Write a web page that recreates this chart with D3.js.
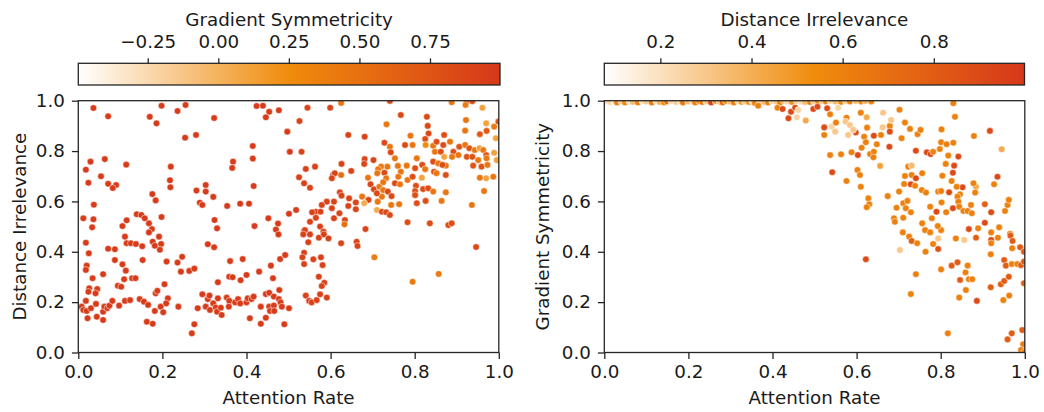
<!DOCTYPE html>
<html>
<head>
<meta charset="utf-8">
<script src="https://cdn.jsdelivr.net/npm/d3@7"></script>
<style>
    body { margin: 0; background: #fff; }
    text { font-family: "DejaVu Sans", sans-serif; fill: #1a1a1a; }
</style>
</head>
<body>
<svg id="chart" width="1044" height="412"></svg>
<script>
// ---- data ----
const xTicks = [0, 0.2, 0.4, 0.6, 0.8, 1.0];
const yTicks = [0, 0.2, 0.4, 0.6, 0.8, 1.0];
const gradTicks = [-0.25, 0, 0.25, 0.5, 0.75];
const distTicks = [0.2, 0.4, 0.6, 0.8];
const gradRange = [-0.496, 0.998];
const distRange = [0.077, 0.999];

// left panel: [attention rate, distance irrelevance, gradient symmetricity]
const leftPoints = [
[0.036,0.971,0.97],[0.071,0.938,0.97],[0.170,0.936,0.97],[0.198,0.980,0.97],[0.186,0.910,0.97],[0.236,0.959,0.97],[0.255,0.983,0.97],[0.254,0.853,0.97],[0.280,0.864,0.97],[0.323,0.931,0.97],[0.424,0.979,0.97],[0.439,0.980,0.97],[0.454,0.956,0.97],[0.446,0.934,0.97],[0.477,0.962,0.97],[0.497,0.877,0.97],[0.415,0.820,0.97],[0.415,0.770,0.97],[0.368,0.758,0.97],[0.366,0.733,0.97],[0.503,0.797,0.96],[0.029,0.758,0.97],[0.018,0.726,0.97],[0.063,0.768,0.97],[0.114,0.746,0.97],[0.054,0.700,0.97],[0.024,0.674,0.97],[0.071,0.670,0.97],[0.090,0.665,0.97],[0.082,0.653,0.97],[0.220,0.738,0.97],[0.218,0.684,0.97],[0.219,0.656,0.97],[0.176,0.629,0.97],[0.184,0.604,0.97],[0.037,0.587,0.97],[0.012,0.533,0.97],[0.036,0.529,0.97],[0.033,0.497,0.97],[0.115,0.525,0.97],[0.105,0.502,0.97],[0.139,0.549,0.97],[0.150,0.546,0.97],[0.158,0.533,0.97],[0.168,0.513,0.97],[0.175,0.490,0.97],[0.198,0.538,0.97],[0.281,0.643,0.97],[0.303,0.665,0.97],[0.303,0.639,0.97],[0.289,0.595,0.97],[0.295,0.586,0.97],[0.321,0.618,0.97],[0.354,0.582,0.97],[0.385,0.591,0.97],[0.406,0.591,0.97],[0.417,0.661,0.97],[0.324,0.526,0.97],[0.330,0.493,0.97],[0.419,0.502,0.97],[0.452,0.533,0.97],[0.475,0.512,0.97],[0.470,0.488,0.97],[0.501,0.551,0.96],
[0.111,0.460,0.97],[0.115,0.434,0.97],[0.125,0.434,0.97],[0.137,0.431,0.97],[0.152,0.422,0.97],[0.177,0.440,0.97],[0.182,0.424,0.97],[0.192,0.460,0.97],[0.197,0.431,0.97],[0.194,0.408,0.97],[0.168,0.477,0.97],[0.018,0.436,0.97],[0.025,0.394,0.97],[0.071,0.412,0.97],[0.087,0.410,0.97],[0.087,0.367,0.97],[0.105,0.350,0.97],[0.113,0.325,0.97],[0.153,0.367,0.97],[0.109,0.291,0.97],[0.128,0.295,0.97],[0.136,0.295,0.97],[0.094,0.265,0.97],[0.102,0.261,0.97],[0.059,0.311,0.97],[0.034,0.295,0.97],[0.020,0.345,0.97],[0.018,0.328,0.97],[0.026,0.255,0.97],[0.024,0.241,0.97],[0.045,0.252,0.97],[0.041,0.235,0.97],[0.018,0.205,0.97],[0.008,0.182,0.97],[0.012,0.169,0.97],[0.020,0.165,0.97],[0.030,0.176,0.97],[0.042,0.193,0.97],[0.022,0.136,0.97],[0.044,0.142,0.97],[0.059,0.129,0.97],[0.059,0.162,0.97],[0.062,0.182,0.97],[0.069,0.176,0.97],[0.074,0.186,0.97],[0.081,0.205,0.97],[0.097,0.186,0.97],[0.111,0.205,0.97],[0.123,0.208,0.97],[0.146,0.212,0.97],[0.156,0.202,0.97],[0.166,0.189,0.97],[0.163,0.122,0.97],[0.177,0.114,0.97],[0.184,0.235,0.97],[0.188,0.245,0.97],[0.182,0.165,0.97],[0.196,0.182,0.97],[0.202,0.160,0.97],[0.205,0.271,0.97],[0.213,0.215,0.97],[0.209,0.195,0.97],[0.210,0.361,0.97],[0.236,0.357,0.97],[0.247,0.380,0.97],[0.244,0.321,0.97],[0.238,0.182,0.97],[0.264,0.324,0.97],[0.276,0.333,0.97],[0.284,0.176,0.97],[0.270,0.076,0.97],[0.276,0.112,0.97],[0.295,0.231,0.97],[0.308,0.430,0.97],[0.323,0.418,0.97],[0.303,0.182,0.97],[0.308,0.212,0.97],[0.313,0.169,0.97],[0.312,0.226,0.97],[0.321,0.195,0.97],[0.327,0.179,0.97],[0.332,0.215,0.97],[0.330,0.162,0.97],[0.339,0.178,0.97],[0.341,0.149,0.97],[0.332,0.279,0.97],[0.353,0.218,0.97],[0.359,0.205,0.97],[0.358,0.182,0.97],[0.361,0.363,0.97],[0.359,0.301,0.97],[0.367,0.299,0.97],[0.373,0.199,0.97],[0.380,0.212,0.97],[0.385,0.195,0.97],[0.386,0.287,0.97],[0.391,0.371,0.97],[0.400,0.308,0.97],[0.400,0.199,0.97],[0.403,0.215,0.97],[0.412,0.212,0.97],[0.417,0.222,0.97],[0.408,0.136,0.97],[0.430,0.321,0.97],[0.434,0.182,0.97],[0.434,0.114,0.97],[0.446,0.138,0.97],[0.446,0.232,0.97],[0.454,0.237,0.97],[0.454,0.182,0.97],[0.456,0.165,0.97],[0.458,0.345,0.97],[0.463,0.295,0.97],[0.465,0.222,0.97],[0.465,0.186,0.97],[0.466,0.165,0.97],[0.476,0.469,0.97],[0.478,0.248,0.97],[0.477,0.212,0.97],[0.481,0.199,0.97],[0.484,0.182,0.97],[0.480,0.371,0.97],[0.492,0.387,0.97],[0.490,0.112,0.97],[0.501,0.176,0.97],
[0.545,0.972,0.9],[0.599,0.972,0.9],[0.625,0.991,0.45],[0.741,0.999,0.85],[0.888,0.994,0.45],[0.924,0.998,0.8],[0.937,0.998,0.8],[0.921,0.983,0.4],[0.961,0.972,0.1],[0.526,0.919,0.92],[0.642,0.864,0.9],[0.681,0.857,0.9],[0.733,0.906,0.45],[0.767,0.943,0.85],[0.829,0.936,0.85],[0.831,0.900,0.85],[0.833,0.870,0.85],[0.922,0.923,0.45],[0.920,0.881,0.45],[0.970,0.910,0.1],[0.989,0.897,0.4],[0.999,0.917,0.75],[0.971,0.880,0.7],[0.955,0.867,0.7],[0.993,0.851,0.1],
[0.531,0.797,0.92],[0.728,0.833,0.85],[0.741,0.817,0.45],[0.743,0.795,0.85],[0.777,0.824,0.85],[0.795,0.824,0.45],[0.790,0.861,0.45],[0.825,0.848,0.8],[0.826,0.824,0.25],[0.844,0.821,0.45],[0.848,0.797,0.45],[0.852,0.837,0.8],[0.870,0.864,0.8],[0.868,0.824,0.8],[0.862,0.797,0.8],[0.884,0.837,0.45],[0.892,0.797,0.8],[0.906,0.817,0.75],[0.920,0.824,0.45],[0.930,0.811,0.75],[0.943,0.804,0.45],[0.954,0.811,0.1],[0.963,0.804,0.45],[0.970,0.784,0.75],[0.989,0.793,0.1],[0.995,0.764,0.1],[0.870,0.777,0.1],[0.904,0.784,0.45],[0.924,0.777,0.75],[0.937,0.777,0.75],[0.889,0.777,0.45],[0.971,0.771,0.45],[0.951,0.764,0.45],[0.939,0.742,0.75],[0.959,0.738,0.75],[0.973,0.745,0.45],[0.844,0.758,0.8],[0.856,0.751,0.45],[0.874,0.742,0.45],[0.866,0.745,0.8],[0.846,0.718,0.8],[0.852,0.712,0.45],[0.874,0.705,0.8],[0.818,0.745,0.8],[0.825,0.728,0.45],[0.805,0.771,0.45],[0.801,0.732,0.8],[0.781,0.742,0.45],[0.760,0.741,0.45],[0.767,0.718,0.45],[0.761,0.698,0.45],[0.753,0.672,0.85],[0.765,0.668,0.45],[0.753,0.771,0.45],[0.735,0.738,0.45],[0.728,0.714,0.85],[0.720,0.738,0.45],[0.713,0.728,0.45],[0.732,0.692,0.45],[0.681,0.768,0.88],[0.680,0.749,0.88],[0.702,0.764,0.88],[0.711,0.712,0.45],[0.689,0.694,0.45],[0.695,0.668,0.88],[0.703,0.648,0.88],[0.716,0.658,0.45],[0.725,0.676,0.45],[0.725,0.645,0.45],[0.736,0.639,0.85],[0.745,0.621,0.85],[0.763,0.589,0.45],[0.744,0.586,0.45],[0.722,0.619,0.45],[0.710,0.632,0.85],[0.712,0.599,0.45],[0.675,0.619,0.45],[0.690,0.606,0.88],[0.680,0.593,0.05],[0.710,0.566,0.05],[0.722,0.559,0.85],[0.732,0.557,0.85],[0.741,0.546,0.85],[0.783,0.685,0.45],[0.795,0.698,0.8],[0.803,0.662,0.8],[0.801,0.641,0.8],[0.801,0.625,0.8],[0.817,0.694,0.1],[0.820,0.649,0.8],[0.832,0.652,0.8],[0.826,0.602,0.8],[0.805,0.593,0.8],[0.844,0.639,0.45],[0.864,0.602,0.45],[0.874,0.636,0.45],[0.936,0.586,0.45],[0.965,0.641,0.45],[0.970,0.692,0.1],[0.987,0.698,0.45],[0.955,0.694,0.45],[0.625,0.705,0.5],[0.649,0.721,0.9],[0.626,0.749,0.9],[0.606,0.705,0.9],[0.610,0.712,0.9],[0.603,0.692,0.9],[0.563,0.738,0.92],[0.541,0.729,0.92],[0.525,0.696,0.92],[0.537,0.672,0.92],[0.551,0.654,0.92],[0.622,0.636,0.9],[0.626,0.623,0.9],[0.644,0.612,0.9],[0.660,0.596,0.9],[0.642,0.582,0.9],[0.660,0.569,0.9],[0.608,0.599,0.9],[0.603,0.573,0.9],[0.621,0.553,0.9],[0.591,0.599,0.92],[0.579,0.586,0.92],[0.565,0.559,0.92],[0.556,0.557,0.92],[0.576,0.559,0.92],[0.565,0.535,0.92],[0.551,0.519,0.92],[0.537,0.483,0.92],[0.575,0.500,0.92],[0.583,0.480,0.92],[0.518,0.566,0.95],[0.608,0.533,0.9],[0.634,0.526,0.9],[0.633,0.509,0.5],[0.683,0.490,0.88],[0.783,0.517,0.8],[0.836,0.513,0.8],[0.880,0.506,0.8],[0.888,0.513,0.8],
[0.539,0.486,0.92],[0.535,0.469,0.92],[0.551,0.469,0.92],[0.572,0.456,0.92],[0.584,0.469,0.92],[0.595,0.453,0.92],[0.547,0.438,0.92],[0.625,0.434,0.9],[0.662,0.440,0.9],[0.664,0.423,0.9],[0.537,0.396,0.92],[0.533,0.378,0.92],[0.559,0.370,0.92],[0.577,0.378,0.92],[0.537,0.351,0.92],[0.581,0.347,0.92],[0.704,0.378,0.4],[0.572,0.301,0.92],[0.585,0.277,0.92],[0.579,0.264,0.92],[0.541,0.226,0.92],[0.549,0.205,0.92],[0.555,0.199,0.92],[0.567,0.208,0.92],[0.575,0.231,0.92],[0.591,0.218,0.92],[0.795,0.281,0.4],[0.857,0.312,0.4],[0.946,0.419,0.85]
];

// right panel: [attention rate, gradient symmetricity, distance irrelevance]
const rightPoints = [
[0.004,0.997,0.2],[0.014,0.995,0.25],[0.023,0.999,0.15],[0.030,0.993,0.6],[0.040,0.999,0.3],[0.049,0.993,0.55],[0.059,0.999,0.2],[0.068,0.995,0.35],[0.080,0.993,0.6],[0.090,0.999,0.2],[0.099,0.997,0.3],[0.113,0.993,0.65],[0.123,0.999,0.25],[0.132,0.995,0.4],[0.142,0.993,0.55],[0.149,0.997,0.7],[0.159,0.999,0.25],[0.171,0.995,0.3],[0.180,0.999,0.2],[0.187,0.993,0.65],[0.199,0.997,0.35],[0.209,0.999,0.25],[0.216,0.993,0.6],[0.225,0.999,0.55],[0.233,0.995,0.65],[0.242,0.997,0.3],[0.254,0.993,0.95],[0.264,0.999,0.5],[0.274,0.995,0.3],[0.281,0.993,0.7],[0.289,0.999,0.55],[0.299,0.997,0.35],[0.308,0.993,0.6],[0.318,0.999,0.25],[0.327,0.995,0.5],[0.334,0.997,0.3],[0.344,0.995,0.55],[0.351,0.999,0.2],[0.358,0.991,0.6],[0.370,0.997,0.3],[0.380,0.995,0.35],[0.389,0.993,0.6],[0.399,0.999,0.25],[0.409,0.997,0.3],[0.418,0.993,0.6],[0.427,0.999,0.4],[0.434,0.997,0.25],[0.446,0.995,0.5],[0.458,0.999,0.3],[0.468,0.997,0.25],[0.477,0.995,0.35],[0.489,0.995,0.6],[0.498,0.999,0.3],[0.508,0.997,0.55],[0.518,0.999,0.3],[0.527,0.997,0.6],[0.537,0.999,0.25],[0.549,0.997,0.35],[0.563,0.995,0.55],[0.574,0.999,0.3],[0.584,0.997,0.6],[0.598,0.999,0.35],[0.611,0.997,0.55],[0.621,0.999,0.4],[0.635,0.997,0.6],
[0.366,0.980,0.6],[0.412,0.972,0.6],[0.424,0.967,0.9],[0.444,0.956,0.9],[0.454,0.972,0.9],[0.461,0.963,0.25],[0.438,0.930,0.9],[0.458,0.934,0.25],[0.479,0.921,0.42],[0.497,0.967,0.9],[0.507,0.976,0.9],[0.530,0.970,0.9],[0.537,0.946,0.6],[0.556,0.972,0.25],[0.610,0.952,0.6],[0.624,0.934,0.42],[0.663,0.952,0.3],[0.702,0.964,0.6],[0.834,0.936,0.6],[0.830,0.990,0.6],
[0.523,0.894,0.9],[0.523,0.864,0.6],[0.541,0.897,0.25],[0.551,0.913,0.6],[0.549,0.877,0.3],[0.576,0.932,0.6],[0.574,0.917,0.3],[0.584,0.903,0.3],[0.580,0.864,0.3],[0.598,0.874,0.9],[0.592,0.884,0.3],[0.625,0.893,0.6],[0.618,0.857,0.6],[0.622,0.835,0.6],[0.612,0.813,0.6],[0.641,0.861,0.9],[0.648,0.827,0.6],[0.658,0.864,0.6],[0.662,0.894,0.3],[0.679,0.900,0.6],[0.682,0.923,0.3],[0.679,0.877,0.9],[0.678,0.817,0.9],[0.707,0.851,0.6],[0.715,0.913,0.6],[0.727,0.888,0.6],[0.745,0.867,0.6],[0.752,0.884,0.6],[0.802,0.886,0.6],[0.879,0.860,0.6],[0.917,0.880,0.9],[0.945,0.807,0.42],
[0.537,0.784,0.6],[0.563,0.787,0.6],[0.588,0.795,0.6],[0.603,0.784,0.9],[0.632,0.788,0.6],[0.641,0.797,0.6],[0.640,0.775,0.6],[0.741,0.801,0.9],[0.767,0.795,0.9],[0.776,0.788,0.9],[0.782,0.797,0.6],[0.798,0.808,0.6],[0.801,0.835,0.6],[0.814,0.827,0.6],[0.830,0.833,0.6],[0.818,0.782,0.6],[0.842,0.778,0.9],[0.812,0.749,0.6],[0.832,0.742,0.9],[0.829,0.714,0.9],[0.656,0.741,0.45],[0.723,0.738,0.6],[0.731,0.742,0.35],[0.542,0.716,0.9],[0.602,0.725,0.6],[0.608,0.705,0.6],[0.576,0.681,0.6],[0.610,0.658,0.6],[0.715,0.701,0.6],[0.731,0.705,0.6],[0.741,0.692,0.9],[0.756,0.712,0.6],[0.713,0.669,0.6],[0.729,0.668,0.9],[0.739,0.662,0.6],[0.804,0.702,0.6],[0.826,0.681,0.6],[0.852,0.656,0.9],[0.838,0.658,0.6],[0.884,0.658,0.42],[0.878,0.672,0.6],[0.927,0.668,0.6],[0.935,0.698,0.9],
[0.674,0.621,0.6],[0.701,0.639,0.6],[0.628,0.612,0.6],[0.630,0.589,0.6],[0.624,0.577,0.6],[0.755,0.645,0.6],[0.765,0.635,0.6],[0.794,0.639,0.6],[0.801,0.641,0.6],[0.820,0.636,0.9],[0.846,0.628,0.6],[0.840,0.619,0.6],[0.882,0.635,0.6],[0.695,0.575,0.6],[0.711,0.593,0.6],[0.721,0.602,0.6],[0.717,0.573,0.6],[0.729,0.557,0.6],[0.775,0.579,0.6],[0.790,0.559,0.9],[0.802,0.596,0.6],[0.813,0.557,0.6],[0.829,0.573,0.9],[0.842,0.599,0.6],[0.844,0.579,0.6],[0.854,0.562,0.6],[0.864,0.562,0.6],[0.874,0.553,0.6],[0.872,0.586,0.6],[0.905,0.589,0.78],[0.920,0.557,0.9],[0.953,0.562,0.6],[0.959,0.586,0.6],[0.962,0.606,0.6],
[0.689,0.533,0.6],[0.711,0.535,0.6],[0.691,0.519,0.6],[0.756,0.513,0.6],[0.779,0.533,0.6],[0.801,0.486,0.6],[0.763,0.486,0.6],[0.793,0.502,0.6],[0.905,0.515,0.9],[0.939,0.497,0.6],[0.867,0.490,0.9],[0.889,0.493,0.6],[0.920,0.477,0.6],[0.965,0.471,0.6],[0.710,0.477,0.6],
[0.725,0.460,0.6],[0.731,0.443,0.78],[0.744,0.434,0.6],[0.703,0.407,0.3],[0.764,0.400,0.6],[0.775,0.477,0.6],[0.782,0.431,0.6],[0.794,0.453,0.3],[0.794,0.411,0.85],[0.836,0.453,0.6],[0.856,0.447,0.3],[0.884,0.456,0.78],[0.920,0.447,0.9],[0.920,0.434,0.6],[0.936,0.456,0.6],[0.966,0.464,0.8],[0.971,0.443,0.8],[0.970,0.414,0.6],[0.989,0.418,0.8],[0.998,0.400,0.8],[0.919,0.390,0.6],[0.622,0.370,0.9],[0.951,0.367,0.8],[0.955,0.345,0.8],[0.969,0.351,0.6],[0.982,0.351,0.6],[0.991,0.347,0.8],[0.998,0.361,0.8],[0.826,0.345,0.8],[0.840,0.358,0.8],[0.864,0.345,0.6],[0.859,0.318,0.6],[0.801,0.330,0.6],[0.741,0.311,0.6],[0.846,0.288,0.8],[0.867,0.291,0.6],[0.875,0.291,0.6],[0.860,0.248,0.6],[0.919,0.259,0.8],[0.943,0.271,0.8],[0.951,0.284,0.8],[0.962,0.301,0.8],[0.998,0.275,0.8],[0.729,0.232,0.6],[0.844,0.218,0.6],[0.886,0.205,0.9],[0.949,0.208,0.6],[0.963,0.226,0.6],[0.817,0.076,0.6],[0.969,0.076,0.8],[0.959,0.052,0.8],[0.994,0.089,0.8],[0.996,0.033,0.6],[0.991,0.010,0.6],[0.998,0.0,0.6]
];

// ---- layout / style ----
const cmapColors = ["#ffffff", "#f08c0c", "#d6381a"];
const fontSize = 18.3;
const plotTop = 100.7, plotBottom = 352.5;
const barTop = 63.3, barBottom = 85;
const tickLen = 6.4;

const svg = d3.select("#chart");
const defs = svg.append("defs");

const panels = [
    { id: "left", left: 78.3, right: 498.8, barRight: 500, points: leftPoints,
      cDomain: gradRange, cTicks: gradTicks, cFormat: d3.format(".2f"),
      yLabel: "Distance Irrelevance", yLabelX: 26, cLabel: "Gradient Symmetricity" },
    { id: "right", left: 604.3, right: 1024.8, barRight: 1024.5, points: rightPoints,
      cDomain: distRange, cTicks: distTicks, cFormat: d3.format(".1f"),
      yLabel: "Gradient Symmetricity", yLabelX: 549, cLabel: "Distance Irrelevance" }
];

panels.forEach(drawPanel);

function styleAxis(g) {
    g.select(".domain").remove();
    g.selectAll(".tick line").attr("stroke", "#262626").attr("stroke-width", 1.3);
    g.selectAll(".tick text").attr("font-size", fontSize).attr("fill", "#1a1a1a")
        .attr("font-family", "DejaVu Sans, sans-serif");
}

function drawPanel(p) {
    const x = d3.scaleLinear().domain([0, 1]).range([p.left, p.right]);
    const y = d3.scaleLinear().domain([0, 1]).range([plotBottom, plotTop]);
    const cMid = (p.cDomain[0] + p.cDomain[1]) / 2;
    const color = d3.scaleLinear().domain([p.cDomain[0], cMid, p.cDomain[1]])
        .range(cmapColors).clamp(true);

    // clip to the axes box
    defs.append("clipPath").attr("id", p.id + "-clip")
        .append("rect")
        .attr("x", p.left).attr("y", plotTop)
        .attr("width", p.right - p.left).attr("height", plotBottom - plotTop);

    svg.append("g")
        .attr("clip-path", "url(#" + p.id + "-clip)")
        .selectAll("circle")
        .data(p.points)
        .join("circle")
        .attr("cx", d => x(d[0]))
        .attr("cy", d => y(d[1]))
        .attr("r", 3.3)
        .attr("fill", d => color(d[2]))
        .attr("stroke", "#fff")
        .attr("stroke-width", 0.5);

    // axes
    svg.append("g")
        .attr("transform", "translate(0," + plotBottom + ")")
        .call(d3.axisBottom(x).tickValues(xTicks).tickFormat(d3.format(".1f"))
            .tickSize(tickLen).tickPadding(6))
        .call(styleAxis);

    svg.append("g")
        .attr("transform", "translate(" + p.left + ",0)")
        .call(d3.axisLeft(y).tickValues(yTicks).tickFormat(d3.format(".1f"))
            .tickSize(tickLen).tickPadding(7))
        .call(styleAxis);

    // frame
    svg.append("rect")
        .attr("x", p.left).attr("y", plotTop)
        .attr("width", p.right - p.left).attr("height", plotBottom - plotTop)
        .attr("fill", "none").attr("stroke", "#262626").attr("stroke-width", 1.3);

    // axis labels
    svg.append("text")
        .attr("x", (p.left + p.right) / 2).attr("y", 404)
        .attr("text-anchor", "middle").attr("font-size", fontSize)
        .text("Attention Rate");

    svg.append("text")
        .attr("transform", "translate(" + p.yLabelX + "," + (plotTop + plotBottom) / 2 + ") rotate(-90)")
        .attr("text-anchor", "middle").attr("font-size", fontSize)
        .text(p.yLabel);

    // colorbar
    const grad = defs.append("linearGradient").attr("id", p.id + "-grad")
        .attr("x1", "0%").attr("x2", "100%").attr("y1", "0%").attr("y2", "0%");
    cmapColors.forEach((c, i) => {
        grad.append("stop").attr("offset", (i / (cmapColors.length - 1) * 100) + "%").attr("stop-color", c);
    });

    const cx = d3.scaleLinear().domain(p.cDomain).range([p.left, p.barRight]);

    svg.append("rect")
        .attr("x", p.left).attr("y", barTop)
        .attr("width", p.barRight - p.left).attr("height", barBottom - barTop)
        .attr("fill", "url(#" + p.id + "-grad)")
        .attr("stroke", "#262626").attr("stroke-width", 1.3);

    svg.append("g")
        .attr("transform", "translate(0," + barTop + ")")
        .call(d3.axisTop(cx).tickValues(p.cTicks).tickFormat(p.cFormat)
            .tickSize(5).tickPadding(10))
        .call(styleAxis);

    svg.append("text")
        .attr("x", (p.left + p.barRight) / 2).attr("y", 26)
        .attr("text-anchor", "middle").attr("font-size", fontSize)
        .text(p.cLabel);
}
</script>
</body>
</html>
